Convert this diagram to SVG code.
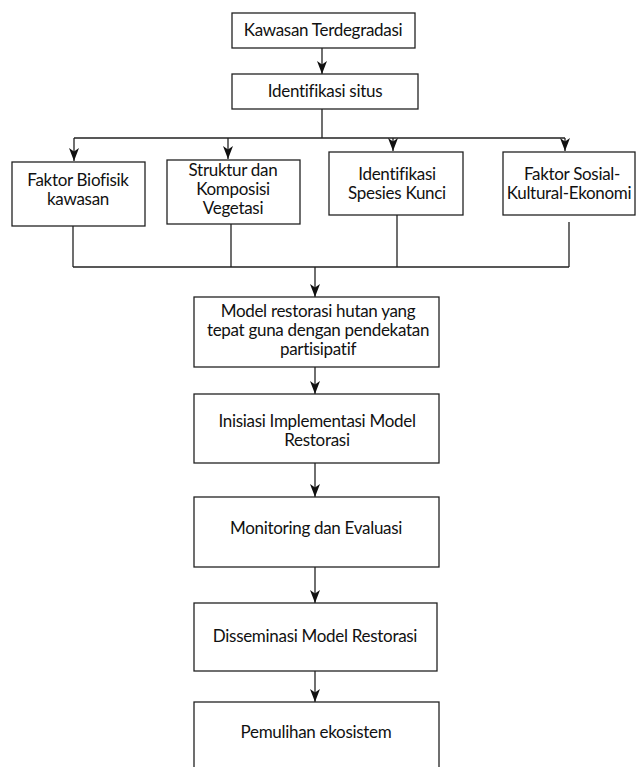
<svg xmlns="http://www.w3.org/2000/svg" width="636" height="767" viewBox="0 0 636 767">
<style>
.box{fill:#fff;stroke:#222;stroke-width:1.3}
.ln{fill:none;stroke:#222;stroke-width:1.3}
text{font-family:Lato,"Open Sans",sans-serif;font-size:17px;fill:#111;text-anchor:middle;letter-spacing:-0.3px}
</style>
<defs>
<marker id="ah" viewBox="0 0 13 10" refX="13" refY="5" markerWidth="13" markerHeight="10" markerUnits="userSpaceOnUse" orient="auto">
<path d="M0,0 L3.5,5 L0,10 L13,5 z" fill="#111"/>
</marker>
</defs>
<rect width="636" height="767" fill="#fff"/>
<g id="connectors">
<line class="ln" x1="322" y1="48" x2="322" y2="74" marker-end="url(#ah)"/>
<path class="ln" d="M322,109 V138 M74,138 H565"/>
<line class="ln" x1="74" y1="138" x2="74" y2="161" marker-end="url(#ah)"/>
<line class="ln" x1="228" y1="138" x2="228" y2="159" marker-end="url(#ah)"/>
<line class="ln" x1="393" y1="138" x2="393" y2="151" marker-end="url(#ah)"/>
<line class="ln" x1="565" y1="138" x2="565" y2="151" marker-end="url(#ah)"/>
<path class="ln" d="M73,226 V267 M231,224 V267 M397,215 V267 M569,222 V267 M73,267 H569"/>
<line class="ln" x1="315" y1="267" x2="315" y2="297" marker-end="url(#ah)"/>
<line class="ln" x1="315" y1="367" x2="315" y2="394" marker-end="url(#ah)"/>
<line class="ln" x1="315" y1="463" x2="315" y2="497" marker-end="url(#ah)"/>
<line class="ln" x1="315" y1="567" x2="315" y2="603" marker-end="url(#ah)"/>
<line class="ln" x1="315" y1="671" x2="315" y2="702" marker-end="url(#ah)"/>
</g>
<g id="n1"><rect class="box" x="232" y="13" width="183" height="35"/><text x="323" y="36">Kawasan Terdegradasi</text></g>
<g id="n2"><rect class="box" x="232" y="74" width="186" height="35"/><text x="325" y="97">Identifikasi situs</text></g>
<g id="n3"><rect class="box" x="12" y="162" width="133" height="64"/><text x="78" y="186">Faktor Biofisik</text><text x="78" y="205">kawasan</text></g>
<g id="n4"><rect class="box" x="167" y="160" width="133" height="64"/><text x="233" y="176">Struktur dan</text><text x="233" y="195">Komposisi</text><text x="233" y="214">Vegetasi</text></g>
<g id="n5"><rect class="box" x="329" y="152" width="134" height="63"/><text x="397" y="180">Identifikasi</text><text x="397" y="199">Spesies Kunci</text></g>
<g id="n6"><rect class="box" x="503" y="152" width="132" height="63"/><text x="572" y="180">Faktor Sosial-</text><text x="569" y="199">Kultural-Ekonomi</text></g>
<g id="n7"><rect class="box" x="194" y="297" width="245" height="70"/><text x="318" y="317">Model restorasi hutan yang</text><text x="318" y="336">tepat guna dengan pendekatan</text><text x="318" y="355">partisipatif</text></g>
<g id="n8"><rect class="box" x="194" y="394" width="245" height="69"/><text x="317" y="427">Inisiasi Implementasi Model</text><text x="317" y="446">Restorasi</text></g>
<g id="n9"><rect class="box" x="194" y="497" width="245" height="70"/><text x="316" y="534">Monitoring dan Evaluasi</text></g>
<g id="n10"><rect class="box" x="194" y="603" width="243" height="68"/><text x="315" y="642">Disseminasi Model Restorasi</text></g>
<g id="n11"><rect class="box" x="194" y="702" width="245" height="80"/><text x="316" y="738">Pemulihan ekosistem</text></g>
</svg>
